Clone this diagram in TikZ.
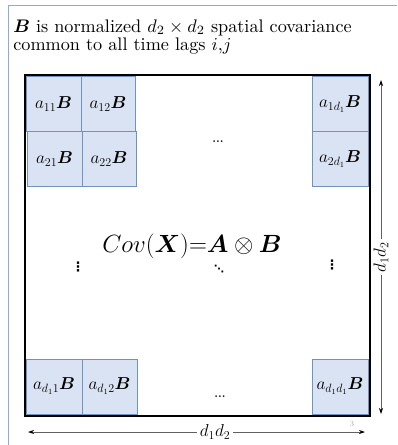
\documentclass[tikz,border=0pt]{standalone}
\usepackage{amsmath}
\usepackage{bm}
\usepackage{fontspec}
\newfontfamily\dejavu{DejaVu Sans}
\usetikzlibrary{arrows.meta}
\definecolor{cellfill}{HTML}{DAE3F3}
\definecolor{celldraw}{HTML}{6F92BE}
\definecolor{framecol}{HTML}{8EAADB}
\definecolor{arrcol}{HTML}{606060}
\tikzset{
  cell/.style={draw=celldraw, fill=cellfill, line width=0.8pt},
  celltext/.style={font=\fontsize{17}{19}\selectfont, inner sep=0pt},
  dims/.style={draw=arrcol, line width=0.8pt, -{Stealth[length=6pt,width=4pt,black]}},
  dimlabel/.style={fill=white, font=\fontsize{18}{20}\selectfont, inner sep=3pt},
  dotsnode/.style={font=\fontsize{12}{14}\selectfont, inner sep=0pt},
  vdotsnode/.style={font=\dejavu\bfseries\fontsize{13}{15}\selectfont, inner sep=0pt},
  titletext/.style={anchor=base west, inner sep=0pt, font=\normalsize, scale=1.82}
}
\begin{document}
\begin{tikzpicture}[x=1pt,y=-1pt]
\useasboundingbox (0,0) rectangle (397,445);
% slide frame lines
\draw[framecol, line width=1pt] (8,445) -- (8,5) -- (397,5);
% title
\node[titletext] (title) at (13,32)
  {$\bm{B}$ is normalized $d_2\times d_2$ spatial covariance};
\node[titletext] (title2) at (13,50.5)
  {common to all time lags $i$,$j$};
% cells
\draw[cell] (26,76) rectangle (81,131);
\draw[cell] (81,76) rectangle (135,131);
\draw[cell] (312,76) rectangle (368,131);
\draw[cell] (27,131) rectangle (82,186);
\draw[cell] (82,131) rectangle (136,186);
\draw[cell] (312,131) rectangle (368,186);
\draw[cell] (26,359) rectangle (82,414);
\draw[cell] (82,359) rectangle (137,414);
\draw[cell] (312,359) rectangle (368,414);
% big frame
\draw[black, line width=2.5pt] (25,75) rectangle (370,416);
% cell texts
\node[celltext] (c11) at (53.5,104) {$a_{11}\bm{B}$};
\node[celltext] (c12) at (108,104) {$a_{12}\bm{B}$};
\node[celltext] (c1d) at (340,104) {$a_{1d_1}\bm{B}$};
\node[celltext] (c21) at (54.5,159) {$a_{21}\bm{B}$};
\node[celltext] (c22) at (109,159) {$a_{22}\bm{B}$};
\node[celltext] (c2d) at (340,159) {$a_{2d_1}\bm{B}$};
\node[celltext] (cd1) at (54,386) {$a_{d_11}\bm{B}$};
\node[celltext] (cd2) at (109.5,386) {$a_{d_12}\bm{B}$};
\node[celltext] (cdd) at (340,386) {$a_{d_1d_1}\bm{B}$};
% dots
\node[dotsnode] (hd1) at (218,142) {\textbf{...}};
\node[dotsnode] (hd2) at (220,397) {\textbf{...}};
\node[vdotsnode] (vd1) at (78,267) {⋮};
\node[vdotsnode] (vd2) at (332,265) {⋮};
\node[vdotsnode, font=\dejavu\bfseries\fontsize{10}{11}\selectfont] (dd) at (219,269) {⋱};
% main formula
\node[inner sep=0pt, font=\fontsize{24}{28}\selectfont] (cov) at (192,246)
  {$Cov(\bm{X}){=}\bm{A}\otimes\bm{B}$};
% dimension arrows
\coordinate (rt) at (381,80);
\coordinate (rb) at (381,414);
\coordinate (bl) at (28,432);
\coordinate (br) at (365,432);
\node[dimlabel, rotate=90] (rlab) at (381,257) {$d_1d_2$};
\node[dimlabel] (blab) at (215,432) {$d_1d_2$};
\draw[dims] (rlab) -- (rt);
\draw[dims] (rlab) -- (rb);
\draw[dims] (blab) -- (bl);
\draw[dims] (blab) -- (br);
% slide number
\node[text=black!35, font=\fontsize{8}{9}\selectfont, inner sep=0pt] (num) at (352,424) {3};
\end{tikzpicture}
\end{document}
